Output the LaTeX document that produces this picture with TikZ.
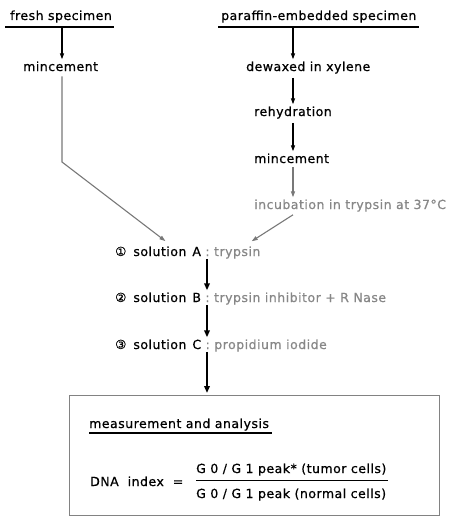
\documentclass[tikz,border=0pt]{standalone}
\usepackage{fontspec}
\setmainfont{DejaVu Sans}[LetterSpace=4, FakeBold=0.7]
\usetikzlibrary{arrows.meta,positioning,calc}
\definecolor{stepgray}{RGB}{120,120,120}
\definecolor{notegray}{RGB}{135,135,135}
\definecolor{boxgray}{RGB}{130,130,130}

\begin{document}
\begin{tikzpicture}[x=1pt,y=-1pt,
    txt/.style={anchor=base west, inner sep=0pt, font=\fontsize{12.5}{15}\selectfont},
    note/.style={text=notegray},
    rule/.style={line width=1.2pt},
    thinarrow/.style={-{Triangle[length=6pt,width=4pt]}, line width=1.1pt, shorten >=2pt},
    grayarrow/.style={thinarrow, draw=stepgray},
    thickarrow/.style={-{Triangle[length=7pt,width=5.5pt]}, line width=2pt, shorten >=2pt}]
    \useasboundingbox (0,0) rectangle (462,519);

    % starting material
    \node[txt] (fresh) at (10,20) {fresh specimen};
    \node[txt] (paraffin) at (221,20) {paraffin-embedded specimen};
    \draw[rule] ([xshift=-5pt,yshift=-7pt]fresh.base west) -- ([xshift=2pt,yshift=-7pt]fresh.base east);
    \draw[rule] ([xshift=-3pt,yshift=-7pt]paraffin.base west) -- ([xshift=2pt,yshift=-7pt]paraffin.base east);
    \coordinate (lcol) at (62,27);
    \coordinate (rcol) at (293,27);

    % left column
    \node[txt] (mincL) at (23,71) {mincement};
    \coordinate (bendL) at (62,162);

    % right column
    \node[txt] (dewax) at (246,71) {dewaxed in xylene};
    \node[txt] (rehyd) at (254,116) {rehydration};
    \node[txt] (mincR) at (254,163) {mincement};
    \node[txt, note] (incub) at (254,209) {incubation in trypsin at 37°C};

    % solutions
    \coordinate (spine) at (207,0);
    \node[txt] (solA) at (115,256) {①\hspace{7pt}solution\hspace{6pt}A\ \textcolor{notegray}{:\ trypsin}};
    \node[txt] (solB) at (115,302) {②\hspace{7pt}solution\hspace{6pt}B\ \textcolor{notegray}{:\ trypsin inhibitor + R Nase}};
    \node[txt] (solC) at (115,349) {③\hspace{7pt}solution\hspace{6pt}C\ \textcolor{notegray}{:\ propidium iodide}};

    % result box
    \node[draw=boxgray, line width=1pt, minimum width=370pt, minimum height=120pt,
        anchor=north west, inner sep=0pt] (result) at (69,395) {};
    \node[txt] (measure) at (89,428) {measurement and analysis};
    \draw[rule] ([yshift=-5pt]measure.base west) -- ([xshift=3pt,yshift=-5pt]measure.base east);
    \node[txt] (dna) at (90,486) {DNA\ \ index\ \ =};
    \node[txt] (numer) at (196,473) {G 0 / G 1 peak* (tumor cells)};
    \node[txt] (denom) at (196,498) {G 0 / G 1 peak (normal cells)};
    \coordinate (bar) at (0,480);
    \draw[line width=0.9pt] (bar -| numer.west) -- ([xshift=1pt]bar -| numer.east);

    % connectors
    \draw[thinarrow] (lcol) -- (lcol |- mincL.north);
    \draw[thinarrow] (rcol) -- (rcol |- dewax.north);
    \draw[thinarrow] ([yshift=-4pt]dewax.south -| rcol) -- (rcol |- rehyd.north);
    \draw[thinarrow] ([yshift=-4pt]rehyd.south -| rcol) -- (rcol |- mincR.north);
    \draw[grayarrow] ([yshift=-4pt]mincR.south -| rcol) -- (rcol |- incub.north);
    \draw[grayarrow] ([yshift=-5pt]mincL.south -| lcol) -- (bendL) -- ([xshift=52pt,yshift=4pt]solA.north west);
    \draw[grayarrow] ([yshift=-3pt]incub.south -| rcol) -- ([xshift=135pt,yshift=4pt]solA.north west);
    \draw[thickarrow] (solA.south -| spine) -- (solB.north -| spine);
    \draw[thickarrow] (solB.south -| spine) -- (solC.north -| spine);
    \draw[thickarrow] (solC.south -| spine) -- (result.north -| spine);
\end{tikzpicture}
\end{document}
